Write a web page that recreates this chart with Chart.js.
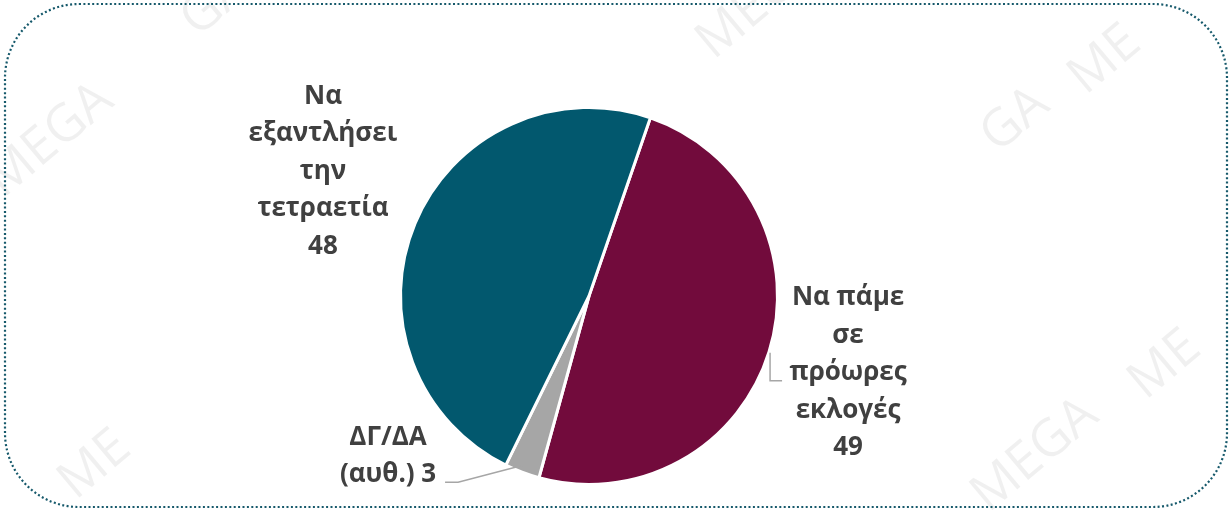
<!DOCTYPE html>
<html>
<head>
<meta charset="utf-8">
<script src="https://cdn.jsdelivr.net/npm/chart.js@4/dist/chart.umd.min.js"></script>
<style>
  html, body { margin: 0; padding: 0; background: #fff; }
  #wrap { position: relative; width: 1229px; height: 512px; }
</style>
</head>
<body>
<div id="wrap"><canvas id="pieChart" width="1229" height="512"></canvas></div>
<script>
// ── data ──
var categories = ['Να πάμε σε πρόωρες εκλογές', 'ΔΓ/ΔΑ (αυθ.)', 'Να εξαντλήσει την τετραετία'];
var values = [49, 3, 48];
var colors = ['#720B3C', '#A6A6A6', '#02586E'];
var labelLines = [
  ['Να πάμε', 'σε', 'πρόωρες', 'εκλογές', '49'],
  ['ΔΓ/ΔΑ', '(αυθ.) 3'],
  ['Να', 'εξαντλήσει', 'την', 'τετραετία', '48']
];

// ── watermark + frame ──
var framePlugin = {
  id: 'frame',
  beforeDraw: function(chart) {
    var ctx = chart.ctx;
    ctx.save();
    ctx.fillStyle = 'rgba(0,0,0,0.06)';
    ctx.font = '52px "Open Sans", sans-serif';
    ctx.textAlign = 'center';
    ctx.textBaseline = 'middle';
    var marks = [
      ['MEGA', 50, 140], ['GA', 1015, 120], ['ME', 1105, 60],
      ['MEGA', 1035, 455], ['ME', 1165, 365], ['ME', 95, 465],
      ['GA', 215, 4], ['MEGA', 760, 2]
    ];
    for (var i = 0; i < marks.length; i++) {
      ctx.save();
      ctx.translate(marks[i][1], marks[i][2]);
      ctx.rotate(-40 * Math.PI / 180);
      ctx.fillText(marks[i][0], 0, 0);
      ctx.restore();
    }
    ctx.restore();
  },
  afterDraw: function(chart) {
    var ctx = chart.ctx;
    ctx.save();
    ctx.strokeStyle = '#16596B';
    ctx.lineWidth = 2.2;
    ctx.setLineDash([2, 2.4]);
    ctx.beginPath();
    ctx.roundRect(5, 4, 1222, 503, 74);
    ctx.stroke();
    ctx.restore();
  }
};

// ── outside labels ──
var labelOffsets = [[79, 21], [-134, -16], [-92, -52]];
var labelPlugin = {
  id: 'outLabels',
  afterDatasetsDraw: function(chart) {
    var ctx = chart.ctx;
    var arcs = chart.getDatasetMeta(0).data;
    ctx.save();
    ctx.font = 'bold 26px "Open Sans", sans-serif';
    ctx.fillStyle = '#404040';
    ctx.textAlign = 'center';
    ctx.textBaseline = 'middle';
    var lh = 37.5;
    for (var i = 0; i < arcs.length; i++) {
      var a = arcs[i];
      var mid = (a.startAngle + a.endAngle) / 2;
      var ox = a.x + Math.cos(mid) * a.outerRadius;
      var oy = a.y + Math.sin(mid) * a.outerRadius;
      var lx = ox + labelOffsets[i][0];
      var ly = oy + labelOffsets[i][1];
      var lines = labelLines[i];
      var top = ly - (lines.length - 1) * lh / 2;
      for (var j = 0; j < lines.length; j++) {
        ctx.fillText(lines[j], lx, top + j * lh);
      }
      // leader lines
      ctx.strokeStyle = '#A6A6A6';
      ctx.lineWidth = 1.5;
      ctx.beginPath();
      if (i === 0) {
        ctx.moveTo(lx - 78, ly - 20);
        ctx.lineTo(lx - 78, ly + 8);
        ctx.lineTo(lx - 66, ly + 8);
        ctx.stroke();
      } else if (i === 1) {
        ctx.moveTo(a.x + Math.cos(mid) * (a.outerRadius - 8), a.y + Math.sin(mid) * (a.outerRadius - 8));
        ctx.lineTo(lx + 70, ly + 26);
        ctx.lineTo(lx + 57, ly + 26);
        ctx.stroke();
      }
    }
    ctx.restore();
  }
};

new Chart(document.getElementById('pieChart').getContext('2d'), {
  type: 'pie',
  data: {
    labels: categories,
    datasets: [{
      data: values,
      backgroundColor: colors,
      borderColor: '#fff',
      borderWidth: 3,
      hoverOffset: 0
    }]
  },
  options: {
    responsive: false,
    animation: false,
    rotation: 19,
    layout: { padding: { left: 399, right: 450, top: 106, bottom: 26 } },
    plugins: {
      legend: { display: false },
      tooltip: { enabled: false }
    }
  },
  plugins: [framePlugin, labelPlugin]
});
</script>
</body>
</html>
